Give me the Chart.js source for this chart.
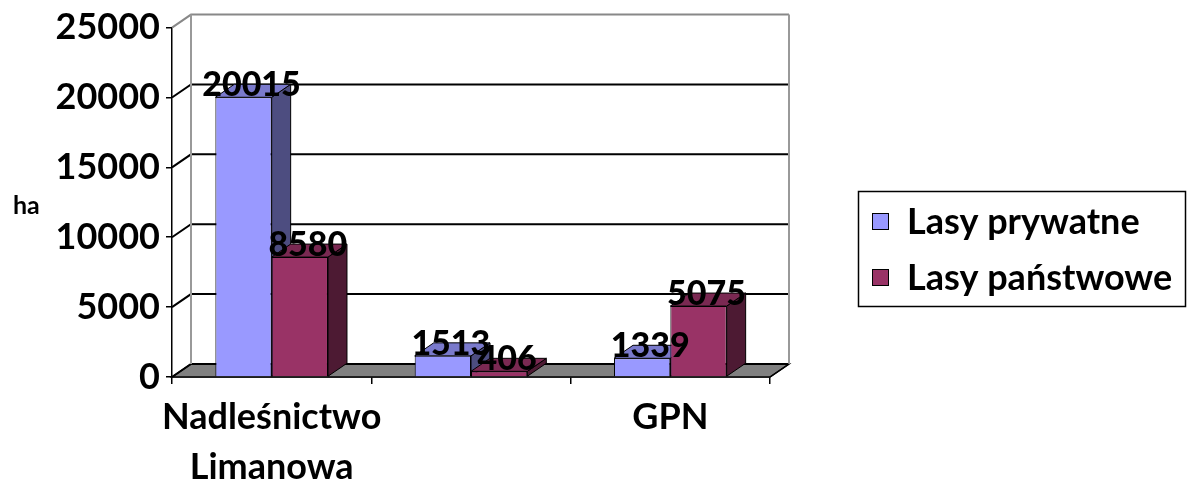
<!DOCTYPE html>
<html><head><meta charset="utf-8">
<script src="https://cdn.jsdelivr.net/npm/chart.js@4.4.1/dist/chart.umd.min.js"></script>
<style>html,body{margin:0;padding:0;background:#fff;}#wrap{width:1188px;height:486px;position:relative;}</style>
</head><body><div id="wrap"><canvas id="c" width="1188" height="486"></canvas></div>
<script>
const categories = [['Nadleśnictwo', 'Limanowa'], '', 'GPN'];
const seriesNames = ['Lasy prywatne', 'Lasy państwowe'];
const lasyPrywatne = [20015, 1513, 1339];
const lasyPanstwowe = [8580, 406, 5075];
const yTickValues = [0, 5000, 10000, 15000, 20000, 25000];
const axisTitle = 'ha';

const FRONT = ['#9999FF', '#993366'];
const TOP = ['#7A7ACC', '#7A2952'];
const SIDE = ['#4D4D80', '#4D1A33'];
const DX = 19, DY = 13;
const FONT = 'Lato, "Open Sans", sans-serif';

function poly(ctx, pts, fill, stroke, lw) {
  ctx.beginPath();
  ctx.moveTo(pts[0][0], pts[0][1]);
  for (let i = 1; i < pts.length; i++) ctx.lineTo(pts[i][0], pts[i][1]);
  ctx.closePath();
  if (fill) { ctx.fillStyle = fill; ctx.fill(); }
  if (stroke) { ctx.strokeStyle = stroke; ctx.lineWidth = lw || 1; ctx.stroke(); }
}

const threeD = {
  id: 'threeD',
  beforeDatasetsDraw(chart) {
    const { ctx, chartArea: a, scales: { y } } = chart;
    ctx.save();
    poly(ctx, [[a.left, a.bottom], [a.right, a.bottom], [a.right + DX, a.bottom - DY], [a.left + DX, a.bottom - DY]], '#808080', '#000', 1.5);
    yTickValues.forEach(v => {
      const yy = y.getPixelForValue(v);
      const isTop = v === yTickValues[yTickValues.length - 1];
      ctx.beginPath();
      ctx.moveTo(a.left, yy);
      ctx.lineTo(a.left + DX, yy - DY);
      ctx.lineTo(a.right + DX, yy - DY);
      ctx.strokeStyle = isTop ? '#888' : '#000';
      ctx.lineWidth = 2;
      ctx.stroke();
    });
    const t0 = y.getPixelForValue(yTickValues[yTickValues.length - 1]);
    ctx.strokeStyle = '#999';
    ctx.lineWidth = 2;
    ctx.beginPath();
    ctx.moveTo(a.left + DX, t0 - DY); ctx.lineTo(a.left + DX, a.bottom - DY);
    ctx.moveTo(a.right + DX, t0 - DY); ctx.lineTo(a.right + DX, a.bottom - DY);
    ctx.stroke();
    ctx.strokeStyle = '#000'; ctx.lineWidth = 1.5;
    ctx.beginPath(); ctx.moveTo(a.right, a.bottom); ctx.lineTo(a.right + DX, a.bottom - DY); ctx.stroke();
    chart.data.datasets.forEach((ds, i) => {
      const meta = chart.getDatasetMeta(i);
      meta.data.forEach(el => {
        const l = el.x - el.width / 2, r = el.x + el.width / 2, t = el.y, b = el.base;
        poly(ctx, [[r, t], [r + DX, t - DY], [r + DX, b - DY], [r, b]], SIDE[i], '#000', 1);
        poly(ctx, [[l, t], [l + DX, t - DY], [r + DX, t - DY], [r, t]], TOP[i], '#000', 1);
      });
    });
    ctx.restore();
  },
  afterDatasetsDraw(chart) {
    const { ctx } = chart;
    ctx.save();
    ctx.font = '900 34px ' + FONT;
    ctx.fillStyle = '#000';
    ctx.textAlign = 'center';
    ctx.textBaseline = 'middle';
    chart.data.datasets.forEach((ds, i) => {
      const meta = chart.getDatasetMeta(i);
      meta.data.forEach((el, j) => {
        ctx.fillText(String(ds.data[j]), el.x + 8, el.y - 12);
      });
    });
    ctx.font = 'bold 25px ' + FONT;
    ctx.textAlign = 'left';
    ctx.fillText(axisTitle, 13, 206);
    ctx.strokeStyle = '#000'; ctx.lineWidth = 1.5;
    ctx.strokeRect(858.5, 191.5, 327, 115);
    ctx.font = 'bold 36px ' + FONT;
    chart.data.datasets.forEach((ds, i) => {
      const cy = 221 + i * 56;
      ctx.fillStyle = ds.backgroundColor;
      ctx.fillRect(872, cy - 8, 17, 17);
      ctx.strokeStyle = '#000'; ctx.lineWidth = 1;
      ctx.strokeRect(872.5, cy - 7.5, 16, 16);
      ctx.fillStyle = '#000';
      ctx.fillText(ds.label, 907, cy + 1);
    });
    ctx.restore();
  }
};

function build() {
  new Chart(document.getElementById('c'), {
    type: 'bar',
    data: {
      labels: categories,
      datasets: [
        { label: seriesNames[0], data: lasyPrywatne, backgroundColor: FRONT[0], borderColor: '#000', borderWidth: 1 },
        { label: seriesNames[1], data: lasyPanstwowe, backgroundColor: FRONT[1], borderColor: '#000', borderWidth: 1 }
      ]
    },
    options: {
      responsive: false,
      animation: false,
      events: [],
      layout: { padding: { left: 0, right: 418, top: 27, bottom: 0 } },
      datasets: { bar: { categoryPercentage: 0.565, barPercentage: 1.0 } },
      plugins: { legend: { display: false }, tooltip: { enabled: false } },
      scales: {
        x: {
          grid: { display: true, drawOnChartArea: false, drawTicks: true, tickLength: 7, color: '#000', lineWidth: 1.5, offset: true },
          border: { display: true, color: '#000', width: 1.5 },
          ticks: { color: '#000', font: { family: FONT, size: 36, weight: 'bold', lineHeight: 1.4 }, padding: 8, maxRotation: 0, autoSkip: false },
          afterFit(s) { s.height = 109; }
        },
        y: {
          min: 0, max: 25000,
          afterBuildTicks(s) { s.ticks = yTickValues.map(v => ({ value: v })); },
          grid: { display: true, drawOnChartArea: false, drawTicks: true, tickLength: 6, color: '#000', lineWidth: 1.5 },
          border: { display: true, color: '#000', width: 1.5 },
          ticks: { color: '#000', font: { family: FONT, size: 36, weight: 'bold' }, padding: 6, callback: v => String(v) },
          afterFit(s) { s.width = 172; }
        }
      }
    },
    plugins: [threeD]
  });
}
Promise.all([
  document.fonts.load('bold 36px Lato'),
  document.fonts.load('900 34px Lato')
]).then(build, build);
</script>
</body></html>
